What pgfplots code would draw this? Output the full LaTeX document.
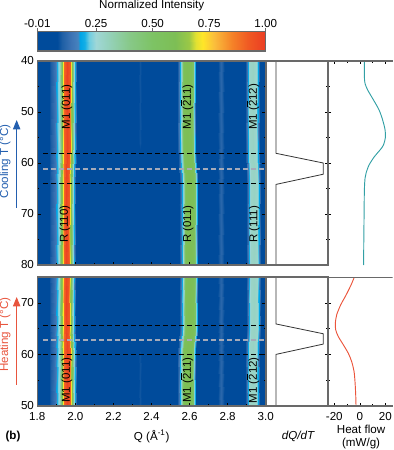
\documentclass[border=0pt]{standalone}
\usepackage{pgfplots}
\usepackage{pgfplotstable}
\usepackage{fontspec}
\setmainfont{Liberation Sans}
\pgfplotsset{compat=1.18}
\usetikzlibrary{arrows.meta}
\definecolor{fr}{RGB}{105,105,105}
\definecolor{coolb}{RGB}{35,95,175}
\definecolor{heatr}{RGB}{232,85,62}
\definecolor{teal1}{RGB}{50,160,165}
\definecolor{red1}{RGB}{235,85,60}
\definecolor{dashg}{RGB}{165,170,185}
\newcommand\ob[1]{\rlap{\rule[0.82em]{0.55em}{0.05em}}#1}
\tikzset{lab/.style={rotate=90, font=\fontsize{8.6}{9}\selectfont, text=black, inner sep=0pt}}
\pgfplotsset{
 colormap={hm}{rgb255(0)=(0,75,155) rgb255(9)=(0,75,155) rgb255(11)=(30,95,165) rgb255(15)=(60,115,180) rgb255(18)=(70,130,190) rgb255(19)=(0,165,230) rgb255(21)=(20,175,230) rgb255(23)=(110,205,225) rgb255(26)=(160,215,215) rgb255(31)=(150,210,190) rgb255(41)=(135,200,135) rgb255(51)=(125,195,100) rgb255(61)=(125,190,85) rgb255(67)=(155,200,70) rgb255(70)=(225,225,50) rgb255(73)=(255,230,40) rgb255(78)=(250,190,60) rgb255(86)=(245,130,40) rgb255(93)=(240,90,35) rgb255(101)=(235,60,35)},
 every axis/.append style={font=\fontsize{8.7}{9}\selectfont},
 /pgf/number format/assume math mode=true,
 base/.style={scale only axis, axis on top, axis line style={fr,line width=0.9pt}, tick style={black,line width=0.4pt}, major tick length=2.6pt, minor tick length=1.5pt, tick align=inside},
 hmap/.style={base, width=171.3pt, xmin=1.8, xmax=3.0, xtick={1.8,2.0,2.2,2.4,2.6,2.8,3.0}, minor x tick num=1, xtick pos=bottom, ytick pos=both, point meta min=-0.01, point meta max=1, colormap name=hm, enlargelimits=false, xticklabel style={/pgf/number format/fixed,/pgf/number format/fixed zerofill,/pgf/number format/precision=1,yshift=-1.5pt}, yticklabel style={xshift=1pt}},
 hs/.style={surf, shader=interp, mesh/rows=4, mesh/ordering=x varies, point meta=\thisrow{v}},
 blk/.style={black, dash pattern=on 4pt off 2pt, line width=0.7pt, forget plot},
 gry/.style={dashg, dash pattern=on 4pt off 2pt, line width=1pt, forget plot},
}
\pgfplotstableread{
Q Tt Tb v
1.800 40 50 .02
1.856 40 50 .03
1.867 40 50 .09
1.893 40 50 .14
1.906 40 50 .20
1.916 40 50 .24
1.928 40 50 .55
1.937 40 50 .72
1.942 40 50 .90
1.955 40 50 .98
1.972 40 50 .92
1.977 40 50 .70
1.984 40 50 .55
1.993 40 50 .24
2.000 40 50 .19
2.010 40 50 .05
2.325 40 50 .07
2.340 40 50 .09
2.355 40 50 .07
2.529 40 50 .03
2.541 40 50 .10
2.550 40 50 .19
2.555 40 50 .23
2.563 40 50 .50
2.571 40 50 .58
2.587 40 50 .60
2.608 40 50 .58
2.616 40 50 .50
2.622 40 50 .23
2.627 40 50 .19
2.634 40 50 .05
2.745 40 50 .07
2.765 40 50 .115
2.785 40 50 .07
2.886 40 50 .03
2.897 40 50 .10
2.905 40 50 .19
2.911 40 50 .24
2.918 40 50 .28
2.934 40 50 .29
2.950 40 50 .27
2.955 40 50 .22
2.960 40 50 .18
2.968 40 50 .05
2.980 40 50 .03
3.000 40 50 .04
1.800 56 60 .02
1.856 56 60 .03
1.867 56 60 .09
1.893 56 60 .14
1.906 56 60 .20
1.916 56 60 .24
1.928 56 60 .55
1.937 56 60 .72
1.942 56 60 .90
1.955 56 60 .98
1.972 56 60 .92
1.977 56 60 .70
1.984 56 60 .55
1.993 56 60 .24
2.000 56 60 .19
2.010 56 60 .05
2.325 56 60 .07
2.340 56 60 .09
2.355 56 60 .07
2.529 56 60 .03
2.541 56 60 .10
2.550 56 60 .19
2.555 56 60 .23
2.563 56 60 .50
2.571 56 60 .58
2.587 56 60 .60
2.608 56 60 .58
2.616 56 60 .50
2.622 56 60 .23
2.627 56 60 .19
2.634 56 60 .05
2.745 56 60 .07
2.765 56 60 .115
2.785 56 60 .07
2.886 56 60 .03
2.897 56 60 .10
2.905 56 60 .19
2.911 56 60 .24
2.918 56 60 .28
2.934 56 60 .29
2.950 56 60 .27
2.955 56 60 .22
2.960 56 60 .18
2.968 56 60 .05
2.980 56 60 .03
3.000 56 60 .04
1.800 64 65 .02
1.856 64 65 .03
1.866 64 65 .09
1.892 64 65 .14
1.904 64 65 .20
1.913 64 65 .24
1.924 64 65 .55
1.933 64 65 .72
1.938 64 65 .90
1.950 64 65 .98
1.965 64 65 .92
1.970 64 65 .70
1.977 64 65 .55
1.987 64 65 .24
1.994 64 65 .19
2.004 64 65 .05
2.325 64 65 .03
2.340 64 65 .03
2.355 64 65 .03
2.540 64 65 .03
2.552 64 65 .10
2.561 64 65 .19
2.566 64 65 .23
2.574 64 65 .50
2.582 64 65 .58
2.598 64 65 .60
2.619 64 65 .58
2.627 64 65 .50
2.633 64 65 .23
2.638 64 65 .19
2.645 64 65 .05
2.745 64 65 .07
2.765 64 65 .115
2.785 64 65 .07
2.893 64 65 .03
2.904 64 65 .10
2.912 64 65 .19
2.918 64 65 .24
2.925 64 65 .28
2.941 64 65 .29
2.957 64 65 .27
2.962 64 65 .22
2.967 64 65 .18
2.975 64 65 .05
2.985 64 65 .03
3.000 64 65 .04
1.800 80 75 .02
1.856 80 75 .03
1.866 80 75 .09
1.892 80 75 .14
1.904 80 75 .20
1.913 80 75 .24
1.924 80 75 .55
1.933 80 75 .72
1.938 80 75 .90
1.950 80 75 .98
1.965 80 75 .92
1.970 80 75 .70
1.977 80 75 .55
1.987 80 75 .24
1.994 80 75 .19
2.004 80 75 .05
2.325 80 75 .03
2.340 80 75 .03
2.355 80 75 .03
2.540 80 75 .03
2.552 80 75 .10
2.561 80 75 .19
2.566 80 75 .23
2.574 80 75 .50
2.582 80 75 .58
2.598 80 75 .60
2.619 80 75 .58
2.627 80 75 .50
2.633 80 75 .23
2.638 80 75 .19
2.645 80 75 .05
2.745 80 75 .07
2.765 80 75 .115
2.785 80 75 .07
2.893 80 75 .03
2.904 80 75 .10
2.912 80 75 .19
2.918 80 75 .24
2.925 80 75 .28
2.941 80 75 .29
2.957 80 75 .27
2.962 80 75 .22
2.967 80 75 .18
2.975 80 75 .05
2.985 80 75 .03
3.000 80 75 .04
}\hm
\begin{document}
\begin{tikzpicture}[x=1pt,y=1pt]
\path[use as bounding box] (0pt,0pt) rectangle (294.75pt,337.5pt);
% colour bar
\begin{axis}[base, at={(27.975pt,299.25pt)}, anchor=south west, width=171.3pt, height=14.6pt,
  xmin=-0.01, xmax=1, ymin=0, ymax=1, ytick=\empty, xtick pos=upper,
  xtick={-0.01,0.25,0.5,0.75,1}, tick align=outside, tick style={fr}, major tick length=2.6pt,
  xticklabel pos=upper, xticklabel style={/pgf/number format/fixed,/pgf/number format/fixed zerofill,/pgf/number format/precision=2,yshift=-3pt},
  axis line style={fr,line width=0.9pt},
  point meta min=-0.01, point meta max=1, colormap name=hm]
\addplot[surf, shader=interp, mesh/rows=2, mesh/ordering=x varies, point meta=\thisrow{v}] table {
x y v
-0.01 0 -0.01
1 0 1
-0.01 1 -0.01
1 1 1
};
\end{axis}
% top heat map
\begin{axis}[hmap, at={(27.975pt,138.75pt)}, anchor=south west, height=153pt, ymin=40, ymax=80, y dir=reverse,
  ytick={40,50,60,70,80}, minor y tick num=1, xticklabels={}]
\addplot[hs] table[x=Q,y=Tt] {\hm};
\addplot[blk] coordinates {(1.83,58.2) (3,58.2)};
\addplot[blk] coordinates {(1.83,64.1) (3,64.1)};
\addplot[gry] coordinates {(1.83,61.2) (3,61.2)};
\node[lab] at (axis cs:1.956,49) {M1 (011)};
\node[lab] at (axis cs:2.587,49) {M1 (\ob{2}11)};
\node[lab] at (axis cs:2.934,49) {M1 (\ob{2}12)};
\node[lab] at (axis cs:1.945,72) {R (110)};
\node[lab] at (axis cs:2.592,72) {R (011)};
\node[lab] at (axis cs:2.941,72) {R (111)};
\end{axis}
% bottom heat map
\begin{axis}[hmap, at={(27.975pt,33pt)}, anchor=south west, height=96.75pt, ymin=50, ymax=75,
  ytick={50,60,70}, minor y tick num=1]
\addplot[hs] table[x=Q,y=Tb] {\hm};
\addplot[blk] coordinates {(1.83,65.7) (3,65.7)};
\addplot[blk] coordinates {(1.83,60) (3,60)};
\addplot[gry] coordinates {(1.83,62.8) (3,62.8)};
\node[lab] at (axis cs:1.956,55) {M1 (011)};
\node[lab] at (axis cs:2.587,55) {M1 (\ob{2}11)};
\node[lab] at (axis cs:2.934,55) {M1 (\ob{2}12)};
\end{axis}
% dQ/dT top
\begin{axis}[base, at={(199.5pt,138.75pt)}, anchor=south west, width=46.5pt, height=153pt, xmin=-0.211, xmax=1.1, ymin=40, ymax=80, y dir=reverse,
  xtick=\empty, ytick={50,60,70}, minor ytick={45,55,65,75}, yticklabels={}, ytick pos=right, tick align=center, major tick length=4.5pt, minor tick length=2.4pt, tick style={black}]
\addplot[black!80, line width=0.6pt] coordinates {(0,40) (0,58.1) (1,60) (1,62.2) (0,64.2) (0,80)};
\draw[black, line width=0.7pt] (rel axis cs:1,0) -- (rel axis cs:1,1);
\end{axis}
% heat flow top
\begin{axis}[base, at={(246pt,138.75pt)}, anchor=south west, width=48.4pt, height=153pt, xmin=-24.94, xmax=25.6, ymin=40, ymax=80, y dir=reverse,
  xtick={-20,0,20}, minor x tick num=1, xticklabels={}, xtick pos=top, ytick=\empty, axis y line=none, axis x line*=top, tick style={black}]
\addplot[teal1, line width=0.7pt, smooth] coordinates {(3.55,40) (3.55,43.07) (4.07,44.4) (6.16,45.7) (10.6,47.6) (15.05,49.6) (17.9,51.6) (19.75,53.5) (20,55) (18.45,56.5) (15.8,57.45) (11.4,58.75) (7.2,60.4) (4.85,62) (4.07,63) (3.55,65.3) (3.3,70.5) (3.03,77) (3.03,80)};
\draw[fr,line width=0.9pt] (rel axis cs:0,1) -- (rel axis cs:1,1);
\end{axis}
% dQ/dT bottom
\begin{axis}[base, at={(199.5pt,33pt)}, anchor=south west, width=46.5pt, height=96.75pt, xmin=-0.211, xmax=1.1, ymin=50, ymax=75,
  xtick=\empty, ytick={60,70}, minor ytick={55,65}, yticklabels={}, ytick pos=right, tick align=center, major tick length=4.5pt, minor tick length=2.4pt, tick style={black}]
\addplot[black!80, line width=0.6pt] coordinates {(0,75) (0,65.9) (1,64) (1,62) (0,60) (0,50)};
\draw[black, line width=0.7pt] (rel axis cs:1,0) -- (rel axis cs:1,1);
\end{axis}
% heat flow bottom
\begin{axis}[base, at={(246pt,33pt)}, anchor=south west, width=48.4pt, height=96.75pt, xmin=-24.94, xmax=25.6, ymin=50, ymax=75,
  xtick={-20,0,20}, minor x tick num=1, xtick pos=bottom, ytick=\empty, axis y line=none, axis x line*=bottom, tick style={black}, xticklabel style={yshift=-1.5pt}]
\addplot[red1, line width=0.7pt, smooth] coordinates {(-4.3,75) (-6.9,73.45) (-10.8,71.5) (-15,69.6) (-18.15,67.65) (-19.2,66) (-18.9,64.75) (-16.85,63.45) (-12.9,61.85) (-9,60.2) (-6.4,58.6) (-4.55,56.7) (-3.8,54.75) (-3.25,52.2) (-3,50)};
\draw[fr,line width=0.9pt] (rel axis cs:0,1) -- (rel axis cs:1,1);
\end{axis}
% labels
\node[font=\fontsize{8.7}{9}\selectfont] at (113.8pt,333pt) {Normalized Intensity};
\node[font=\fontsize{8.7}{9}\selectfont, rotate=90, text=coolb] at (3.9pt,216.5pt) {Cooling T (°C)};
\node[font=\fontsize{8.7}{9}\selectfont, rotate=90, text=heatr] at (3.9pt,86.5pt) {Heating T (°C)};
\draw[coolb, line width=0.8pt, -{Triangle[width=5.5pt,length=7pt]}] (12.5pt,181.5pt) -- (12.5pt,247.5pt);
\draw[heatr, line width=0.8pt, -{Triangle[width=5.5pt,length=7pt]}] (12.5pt,48.75pt) -- (12.5pt,114.75pt);
\node[font=\fontsize{8.7}{9}\selectfont] at (113.8pt,10pt) {Q (Å\textsuperscript{-1})};
\node[font=\fontsize{8.7}{9}\selectfont\bfseries] at (9.75pt,10pt) {(b)};
\node[font=\fontsize{8.7}{9}\selectfont\itshape] at (223.5pt,10pt) {dQ/dT};
\node[font=\fontsize{8.7}{9}\selectfont] at (270.8pt,15.5pt) {Heat flow};
\node[font=\fontsize{8.7}{9}\selectfont] at (270.8pt,4.5pt) {(mW/g)};
\end{tikzpicture}
\end{document}
